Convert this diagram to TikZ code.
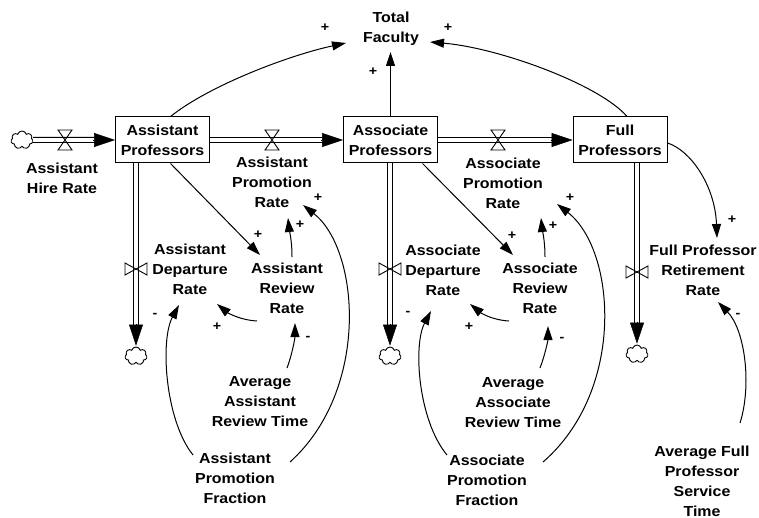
\documentclass[tikz,border=0pt]{standalone}
\usepackage{fontspec}
\setmainfont{Liberation Sans}[FakeStretch=1.1]
\usetikzlibrary{arrows.meta,shapes.symbols}
\begin{document}
\begin{tikzpicture}[x=1pt,y=-1pt,
  lbl/.style={font=\bfseries\fontsize{14.5}{20}\selectfont, align=center, inner sep=0pt},
  stock/.style={lbl, draw, line width=1pt, minimum width=94pt, minimum height=46pt},
  link/.style={line width=1pt, -{Triangle[length=14pt,width=9pt]}},
  pipe/.style={double, double distance=3.6pt, line width=1.2pt},
  flowtip/.style={line width=0.5pt, -{Triangle[length=21pt,width=14pt]}},
  pol/.style={font=\bfseries\fontsize{13}{13}\selectfont, inner sep=0pt},
  cloudn/.style={cloud, cloud puffs=7, draw, line width=0.9pt, minimum width=22pt, minimum height=18pt, inner sep=0pt, aspect=1.2},
  valve/.style={draw, line width=0.9pt},
]
\useasboundingbox (0,0) rectangle (759,518);

% stocks
\node[stock] (apr) at (162.5,140) {Assistant\\Professors};
\node[stock] (aspr) at (390.5,140) {Associate\\Professors};
\node[stock] (fpr) at (620,140) {Full\\Professors};
\node[lbl] (tf) at (391,29) {Total\\Faculty};

% clouds
\node[cloudn] (c0) at (22,140) {};
\node[cloudn] (c1) at (136,356) {};
\node[cloudn] (c2) at (390,356) {};
\node[cloudn] (c3) at (637,354) {};

% labels
\node[lbl] (hire) at (62,178) {Assistant\\Hire Rate};
\node[lbl] (apromr) at (272,182) {Assistant\\Promotion\\Rate};
\node[lbl] (spromr) at (503,183) {Associate\\Promotion\\Rate};
\node[lbl] (adep) at (190,269) {Assistant\\Departure\\Rate};
\node[lbl] (arev) at (287,288) {Assistant\\Review\\Rate};
\node[lbl] (sdep) at (443,270) {Associate\\Departure\\Rate};
\node[lbl] (srev) at (540,288) {Associate\\Review\\Rate};
\node[lbl] (fret) at (703,270) {Full Professor\\Retirement\\Rate};
\node[lbl] (aart) at (260,402) {Average\\Assistant\\Review Time};
\node[lbl] (apf) at (235,478) {Assistant\\Promotion\\Fraction};
\node[lbl] (asrt) at (513,403) {Average\\Associate\\Review Time};
\node[lbl] (spf) at (487,480) {Associate\\Promotion\\Fraction};
\node[lbl] (afps) at (702,481) {Average Full\\Professor\\Service\\Time};

% flows (pipes)
\draw[pipe] (c0.east) -- ([xshift=-20pt]apr.west);
\draw[flowtip] ([xshift=-22pt]apr.west) -- (apr.west);
\draw[pipe] (apr.east) -- ([xshift=-20pt]aspr.west);
\draw[flowtip] ([xshift=-22pt]aspr.west) -- (aspr.west);
\draw[pipe] (aspr.east) -- ([xshift=-20pt]fpr.west);
\draw[flowtip] ([xshift=-22pt]fpr.west) -- (fpr.west);

\draw[pipe] (c1 |- apr.south) -- ([yshift=21pt]c1.north);
\draw[flowtip] ([yshift=23pt]c1.north) -- ([yshift=1pt]c1.north);
\draw[pipe] (c2 |- aspr.south) -- ([yshift=21pt]c2.north);
\draw[flowtip] ([yshift=23pt]c2.north) -- ([yshift=1pt]c2.north);
\draw[pipe] (c3 |- fpr.south) -- ([yshift=21pt]c3.north);
\draw[flowtip] ([yshift=23pt]c3.north) -- ([yshift=1pt]c3.north);

% valves
\foreach \x/\y in {65/140, 272/140, 498/140}
  \draw[valve] (\x,\y) ++(-7,-10) -- ++(14,0) -- ++(-14,20) -- ++(14,0) -- cycle;
\foreach \x/\y in {136/269, 390/269, 637/272}
  \draw[valve] (\x,\y) ++(-11,-6) -- ++(0,12) -- ++(22,-12) -- ++(0,12) -- cycle;

% link end points
\coordinate (e1) at (346,43);
\coordinate (e2) at (390.5,52);
\coordinate (e3) at (430,42);
\coordinate (e4) at (260,255);
\coordinate (e5) at (288,218);
\coordinate (e6) at (303,205);
\coordinate (e7) at (179,305);
\coordinate (e8) at (217,304);
\coordinate (e9) at (295,323);
\coordinate (f4) at (513,255);
\coordinate (f5) at (541,218);
\coordinate (f6) at (557,204);
\coordinate (f7) at (431,311);
\coordinate (f8) at (470,304);
\coordinate (f9) at (548,326);
\coordinate (g10) at (717,238);
\coordinate (g11) at (718,302);

% links
\draw[link] ([xshift=8pt]apr.north) .. controls (210,85) and (290,55) .. (e1);
\draw[link] (aspr.north) -- (e2);
\draw[link] ([xshift=7pt]fpr.north) .. controls (600,85) and (500,48) .. (e3);
\draw[link] ([xshift=8pt]apr.south) -- (e4);
\draw[link] (292,257) .. controls (292,240) and (289,228) .. (e5);
\draw[link] (290,462) .. controls (370,390) and (360,250) .. (e6);
\draw[link] (193,455) .. controls (165,420) and (160,340) .. (e7);
\draw[link] (257,321) .. controls (240,320) and (228,313) .. (e8);
\draw[link] (287,368) .. controls (292,355) and (295,338) .. (e9);

\draw[link] ([xshift=32pt]aspr.south) -- (f4);
\draw[link] (545,257) .. controls (545,240) and (542,228) .. (f5);
\draw[link] (543,462) .. controls (626,390) and (616,250) .. (f6);
\draw[link] (447,455) .. controls (418,420) and (413,345) .. (f7);
\draw[link] (509,321) .. controls (492,320) and (481,313) .. (f8);
\draw[link] (540,368) .. controls (545,355) and (548,340) .. (f9);

\draw[link] ([yshift=-3pt]fpr.east) .. controls (690,150) and (715,185) .. (g10);
\draw[link] (740,423) .. controls (752,385) and (745,330) .. (g11);

% polarities
\node[pol] at (325,28) {+};
\node[pol] at (373,72) {+};
\node[pol] at (448,28) {+};
\node[pol] at (258,235) {+};
\node[pol] at (300,225) {+};
\node[pol] at (318,198) {+};
\node[pol] at (155,315) {-};
\node[pol] at (217,327) {+};
\node[pol] at (308,338) {-};
\node[pol] at (512,236) {+};
\node[pol] at (553,226) {+};
\node[pol] at (570,198) {+};
\node[pol] at (408,313) {-};
\node[pol] at (469,327) {+};
\node[pol] at (562,339) {-};
\node[pol] at (732,220) {+};
\node[pol] at (738,315) {-};
\end{tikzpicture}
\end{document}
